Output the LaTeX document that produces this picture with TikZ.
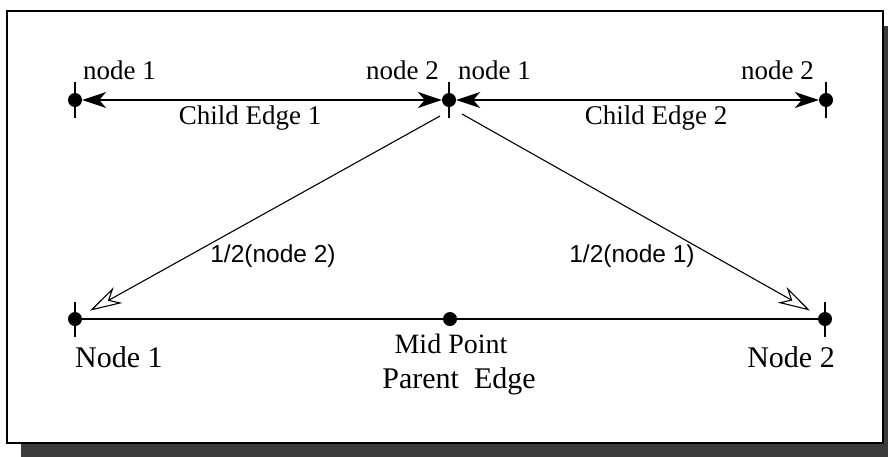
\documentclass[tikz,border=0pt]{standalone}
\usepackage{fontspec}
\setmainfont{Liberation Serif}
\newfontfamily\helv{Liberation Sans}
\usetikzlibrary{arrows.meta}
\definecolor{shadowgray}{HTML}{3C3C3C}
\begin{document}
\begin{tikzpicture}[x=1pt,y=-1pt,
  dot/.style={circle,fill=black,inner sep=0pt,minimum size=14pt},
  tickmark/.style={line width=1.6pt},
  childedge/.style={line width=1.4pt,{Stealth[length=24pt,width=16pt,inset=7pt]}-{Stealth[length=24pt,width=16pt,inset=7pt]}},
  parentedge/.style={line width=2.4pt},
  halfarrow/.style={line width=1.1pt,-{Stealth[open,length=32pt,width=18pt,inset=10pt]},shorten >=10pt},
  smalllab/.style={font=\fontsize{27}{30}\selectfont,inner sep=0pt,anchor=base},
  biglab/.style={font=\fontsize{30}{34}\selectfont,inner sep=0pt,anchor=base},
  sanslab/.style={font=\helv\fontsize{24.5}{28}\selectfont,inner sep=0pt}]
\useasboundingbox (0,0) rectangle (888,456);
\fill[white] (0,0) rectangle (888,456);
% shadow and frame
\fill[shadowgray] (21,26) rectangle (900,470);
\draw[line width=2.8pt,fill=white] (7,11) rectangle (883,443);
% top points
\node[dot] (a1) at (75,100) {};
\node[dot] (a2) at (449,100) {};
\node[dot] (a3) at (826,100) {};
\foreach \n in {a1,a2,a3}
  \draw[tickmark] (\n.center) ++(0,-18) -- ++(0,36);
% bottom points
\node[dot] (b1) at (75,319) {};
\node[dot] (bm) at (450,319) {};
\node[dot] (b2) at (825,319) {};
\foreach \n in {b1,b2}
  \draw[tickmark] (\n.center) ++(0,-17) -- ++(0,35);
% edges
\draw[childedge] (a1) -- (a2);
\draw[childedge] (a2) -- (a3);
\draw[parentedge] (b1) -- (bm) -- (b2);
% diagonal arrows
\coordinate (s1) at (440,116);
\coordinate (s2) at (462,114);
\draw[halfarrow] (s1) -- (b1);
\draw[halfarrow] (s2) -- (b2);
% top labels
\node[smalllab,anchor=base west] (l1) at (83,79) {node 1};
\node[smalllab,anchor=base east] (l2) at (439,79) {node 2};
\node[smalllab,anchor=base west] (l3) at (458,79) {node 1};
\node[smalllab,anchor=base east] (l4) at (814,79) {node 2};
\node[smalllab] (c1) at (250,124) {Child Edge 1};
\node[smalllab] (c2) at (656,124) {Child Edge 2};
% half labels
\node[sanslab] (h1) at (273,256) {1/2(node 2)};
\node[sanslab] (h2) at (632,256) {1/2(node 1)};
% bottom labels
\node[biglab,anchor=base west] (n1) at (75,367) {Node 1};
\node[biglab,anchor=base east] (n2) at (835,367) {Node 2};
\node[smalllab,font=\fontsize{28}{32}\selectfont] (mp) at (451,353) {Mid Point};
\node[biglab] (pe) at (459,388) {Parent\ \ Edge};
\end{tikzpicture}
\end{document}
